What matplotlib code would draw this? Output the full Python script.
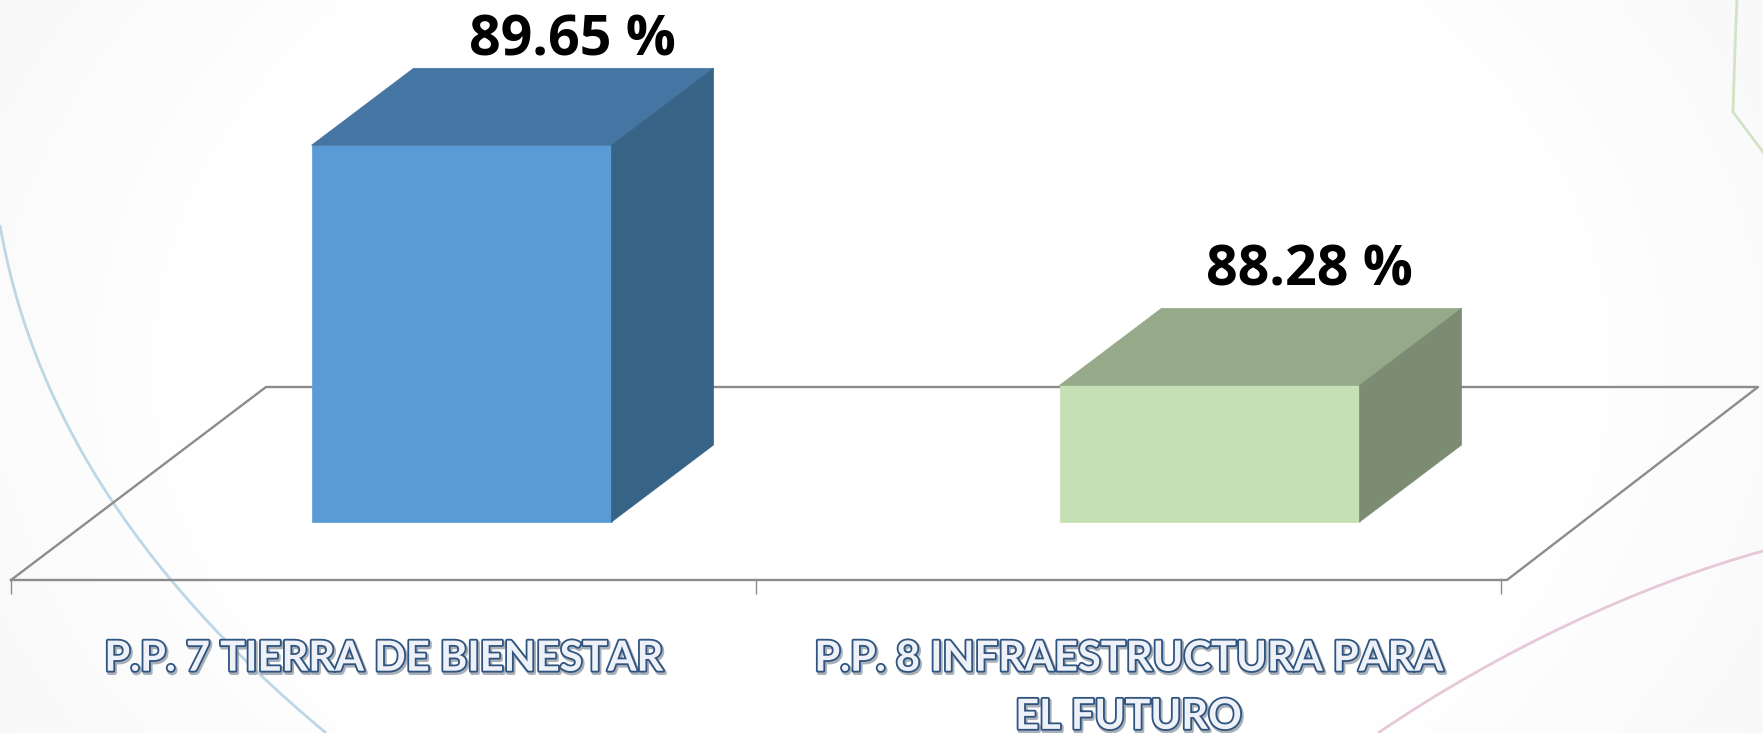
#!/usr/bin/env python3
import numpy as np
import matplotlib.pyplot as plt
import matplotlib.patheffects as pe
from matplotlib.path import Path
from matplotlib.patches import PathPatch

categories = ["P.P. 7 TIERRA DE BIENESTAR", "P.P. 8 INFRAESTRUCTURA PARA\nEL FUTURO"]
values = [89.65, 88.28]
value_labels = ["89.65 %", "88.28 %"]
front_colors = ["#5B9BD5", "#C5E0B4"]
top_colors = ["#4575A2", "#96AA89"]
side_colors = ["#376387", "#7C8C72"]

W, H = 1763, 733
dpi = 100.0
base_value = 87.5
px_per_value = 175.2
px_per_cat = 745.0
floor_y = 580  # px from top, front edge of the floor
depth_px = (102, 77)
bar_shift_px = [78, 81]
bar_width_px = 300
# the value labels are not centred on the bars in the original
label_shift_px = [111, 100]
label_gap_px = [0, 10]
grey = "#8C8C8C"

fig = plt.figure(figsize=(W / dpi, H / dpi), dpi=dpi)

# Slide background: soft grey edges fading to white, plus the thin decorative curves
bg = fig.add_axes([0, 0, 1, 1], zorder=0)
bg.set_xlim(0, W)
bg.set_ylim(H, 0)
bg.axis("off")
yy, xx = np.mgrid[0:H:60j, 0:W:120j]
dist = np.hypot((xx - W / 2) / (W / 2), (yy - H / 2) / (H * 0.9))
shade = 1 - 0.04 * np.clip((dist - 0.72) / 0.6, 0, 1)
bg.imshow(shade, cmap="gray", vmin=0, vmax=1, extent=(0, W, H, 0), aspect="auto", interpolation="bilinear")
curve = [Path.MOVETO, Path.CURVE4, Path.CURVE4, Path.CURVE4]
bg.add_patch(PathPatch(Path([(0, 225), (30, 400), (130, 570), (326, 733)], curve),
                       fc="none", ec="#BDD7E7", lw=2))
bg.add_patch(PathPatch(Path([(1378, 733), (1500, 650), (1640, 585), (1763, 551)], curve),
                       fc="none", ec="#E6C8D8", lw=2))
bg.add_patch(PathPatch(Path([(1737, 0), (1735, 40), (1734, 80), (1733, 112)], curve),
                       fc="none", ec="#D3E3C5", lw=2))
bg.plot([1733, 1763], [112, 152], color="#D3E3C5", lw=2)

ax = fig.add_axes([11 / W, (H - floor_y) / H, 1490 / W, floor_y / H], zorder=1)
ax.patch.set_alpha(0)
ax.set_xlim(-0.5, 1.5)
ax.set_ylim(base_value - (floor_y - 522) / px_per_value, base_value + 522 / px_per_value)
for s in ["top", "left", "right"]:
    ax.spines[s].set_visible(False)
ax.spines["bottom"].set_color(grey)
ax.spines["bottom"].set_linewidth(1.7)
ax.set_yticks([])

# category axis: ticks on the boundaries, labels between them
ax.set_xticks([-0.5, 0.5, 1.5])
ax.set_xticklabels([])
ax.tick_params(axis="x", which="major", length=10, width=1.0, color=grey)
ax.set_xticks([0, 1], minor=True)
ax.set_xticklabels(categories, minor=True, family="Lato", fontweight="bold", fontsize=30,
                   color="#EEF2F8", linespacing=1.65, ha="center", va="top")
ax.tick_params(axis="x", which="minor", length=0, pad=43)
for lab in ax.get_xticklabels(minor=True):
    lab.set_path_effects([
        pe.Stroke(linewidth=3.2, foreground="#8E96A0", alpha=0.75, offset=(1, -1.5)),
        pe.Stroke(linewidth=2.6, foreground="#2F5480"),
        pe.Normal(),
    ])

dx = depth_px[0] / px_per_cat
dy = depth_px[1] / px_per_value

# Floor: back and side edges go behind the bars
y_floor_front = ax.get_ylim()[0]
right_end = 1.5 + 6 / px_per_cat
floor_dy = 193 / px_per_value
ax.plot([-0.5, -0.5 + 255 / px_per_cat, right_end + 251 / px_per_cat, right_end, 1.5],
        [y_floor_front, y_floor_front + floor_dy, y_floor_front + floor_dy, y_floor_front, y_floor_front],
        color=grey, lw=1.7, clip_on=False, zorder=1)

for i, v in enumerate(values):
    mid = i + bar_shift_px[i] / px_per_cat
    half = bar_width_px / 2 / px_per_cat
    x0 = mid - half
    x1 = mid + half
    ax.fill([x0, x1, x1, x0], [base_value, base_value, v, v], color=front_colors[i], lw=0.5, zorder=3)
    ax.fill([x0, x1, x1 + dx, x0 + dx], [v, v, v + dy, v + dy], color=top_colors[i], lw=0.5, zorder=3)
    ax.fill([x1, x1 + dx, x1 + dx, x1], [base_value, base_value + dy, v + dy, v], color=side_colors[i], lw=0.5, zorder=3)
    ax.text(mid + label_shift_px[i] / px_per_cat, v + dy + label_gap_px[i] / px_per_value, value_labels[i],
            family="Open Sans", fontweight="bold", fontsize=40, color="black", ha="center", va="bottom", zorder=4)

fig.savefig("out.png", dpi=dpi)
